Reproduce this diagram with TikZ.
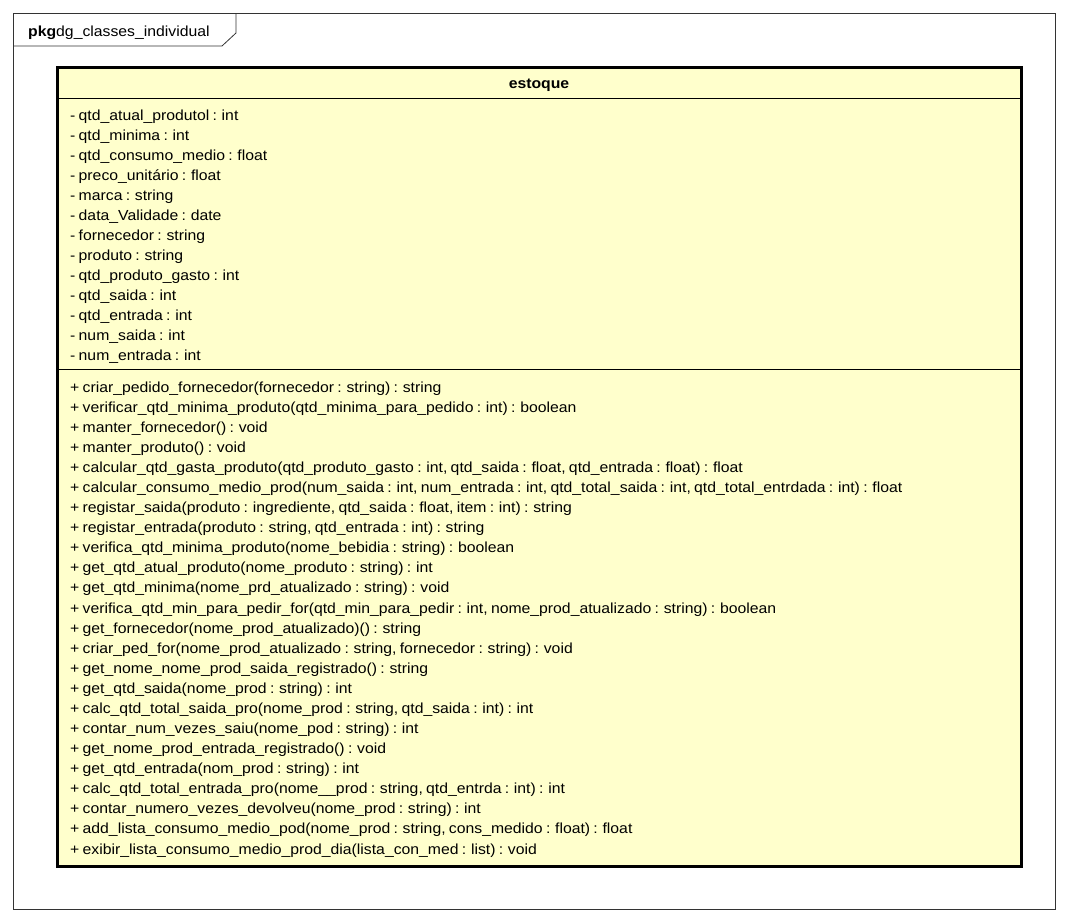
\documentclass[tikz,border=0pt]{standalone}
\usepackage{fontspec}
\setmainfont[FakeStretch=1.08,WordSpace=0.75]{Liberation Sans}
\begin{document}
\begin{tikzpicture}[x=1pt,y=-1pt,
  member/.style={anchor=base west,inner sep=0pt,font=\fontsize{14.6}{16}\selectfont},
  thinline/.style={draw=black,line width=0.8pt},
  classborder/.style={draw=black,line width=3pt,fill=classfill}]
\definecolor{classfill}{HTML}{FFFFCC}
\useasboundingbox (0,0) rectangle (1069,922);
% package frame
\draw[draw=black!80,line width=0.8pt] (13,13) rectangle (1055,909);
\draw[draw=black!80,line width=0.8pt] (13,46) -- (222,46) -- (236,33) -- (236,13);
\node[member] (pkg) at (28,36) {\textbf{pkg}dg\_classes\_individual};
% class box
\draw[classborder] (57.5,67.5) rectangle (1021,866);
\node[anchor=base,inner sep=0pt,font=\bfseries\fontsize{14.6}{16}\selectfont] (title) at (539,88) {estoque};
\draw[thinline] (57.5,98) -- (1021,98);
\draw[thinline] (57.5,369) -- (1021,369);
% attributes
\foreach \t [count=\i from 0] in {
 - qtd\_atual\_produtol : int,
 - qtd\_minima : int,
 - qtd\_consumo\_medio : float,
 - preco\_unitário : float,
 - marca : string,
 - data\_Validade : date,
 - fornecedor : string,
 - produto : string,
 - qtd\_produto\_gasto : int,
 - qtd\_saida : int,
 - qtd\_entrada : int,
 - num\_saida : int,
 - num\_entrada : int}
 \node[member] (a\i) at (70,{120+20.08*\i}) {\t};
% operations
\foreach \t [count=\i from 0] in {
 + criar\_pedido\_fornecedor(fornecedor : string) : string,
 + verificar\_qtd\_minima\_produto(qtd\_minima\_para\_pedido : int) : boolean,
 + manter\_fornecedor() : void,
 + manter\_produto() : void,
 {+ calcular\_qtd\_gasta\_produto(qtd\_produto\_gasto : int, qtd\_saida : float, qtd\_entrada : float) : float},
 {+ calcular\_consumo\_medio\_prod(num\_saida : int, num\_entrada : int, qtd\_total\_saida : int, qtd\_total\_entrdada : int) : float},
 {+ registar\_saida(produto : ingrediente, qtd\_saida : float, item : int) : string},
 {+ registar\_entrada(produto : string, qtd\_entrada : int) : string},
 + verifica\_qtd\_minima\_produto(nome\_bebidia : string) : boolean,
 + get\_qtd\_atual\_produto(nome\_produto : string) : int,
 + get\_qtd\_minima(nome\_prd\_atualizado : string) : void,
 {+ verifica\_qtd\_min\_para\_pedir\_for(qtd\_min\_para\_pedir : int, nome\_prod\_atualizado : string) : boolean},
 + get\_fornecedor(nome\_prod\_atualizado)() : string,
 {+ criar\_ped\_for(nome\_prod\_atualizado : string, fornecedor : string) : void},
 + get\_nome\_nome\_prod\_saida\_registrado() : string,
 + get\_qtd\_saida(nome\_prod : string) : int,
 {+ calc\_qtd\_total\_saida\_pro(nome\_prod : string, qtd\_saida : int) : int},
 + contar\_num\_vezes\_saiu(nome\_pod : string) : int,
 + get\_nome\_prod\_entrada\_registrado() : void,
 + get\_qtd\_entrada(nom\_prod : string) : int,
 {+ calc\_qtd\_total\_entrada\_pro(nome\_\_prod : string, qtd\_entrda : int) : int},
 + contar\_numero\_vezes\_devolveu(nome\_prod : string) : int,
 {+ add\_lista\_consumo\_medio\_pod(nome\_prod : string, cons\_medido : float) : float},
 + exibir\_lista\_consumo\_medio\_prod\_dia(lista\_con\_med : list) : void}
 \node[member] (o\i) at (70,{392+20.09*\i}) {\t};
\end{tikzpicture}
\end{document}
